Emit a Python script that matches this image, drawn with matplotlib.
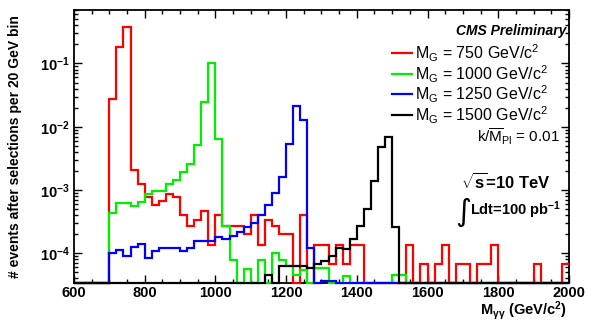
import numpy as np
import matplotlib
matplotlib.use("Agg")
import matplotlib.pyplot as plt

plt.rcParams['font.family'] = ['Liberation Sans', 'DejaVu Sans']
plt.rcParams['mathtext.fontset'] = 'custom'
plt.rcParams['mathtext.rm'] = 'Liberation Sans'
plt.rcParams['mathtext.it'] = 'Liberation Sans:italic'
plt.rcParams['mathtext.bf'] = 'Liberation Sans:bold'

# 20 GeV bins from 600 to 2000 GeV
edges = np.arange(600, 2001, 20)

# events per bin (0 = empty bin)
m750 = [0, 0, 0, 0, 0, 0.027, 0.185, 0.38, 2.05e-3, 1.23e-3,
        7.8e-4, 5.8e-4, 6.8e-4, 8.5e-4, 7.8e-4, 4.0e-4, 2.7e-4, 3.3e-4, 4.7e-4, 1.35e-4,
        4.0e-4, 2.7e-4, 2.7e-4, 2.7e-4, 2.0e-4, 4.0e-4, 1.35e-4, 3.3e-4, 2.7e-4, 2.0e-4,
        2.0e-4, 0, 4.0e-4, 0, 1.35e-4, 1.35e-4, 6.7e-5, 1.35e-4, 6.7e-5, 1.35e-4,
        1.35e-4, 0, 0, 0, 0, 0, 0, 1.35e-4, 0, 6.7e-5,
        0, 6.7e-5, 1.35e-4, 0, 6.7e-5, 6.7e-5, 0, 6.7e-5, 6.7e-5, 1.35e-4,
        0, 0, 0, 0, 0, 6.7e-5, 0, 0, 0, 6.7e-5]
m1000 = [0, 0, 0, 0, 0, 4.3e-4, 6.2e-4, 6.3e-4, 5.6e-4, 6.5e-4,
         8.7e-4, 9.8e-4, 9.8e-4, 1.23e-3, 1.45e-3, 1.95e-3, 2.6e-3, 5.2e-3, 0.0245, 0.100,
         6.3e-3, 2.75e-4, 7.9e-5, 0, 5.6e-5, 0, 7.9e-5, 0, 1.0e-4, 7.9e-5,
         6.3e-5, 4.6e-5, 5.4e-5, 0, 5.8e-5, 5.8e-5, 0, 0, 4.4e-5, 0,
         0, 0, 0, 0, 0, 4.6e-5, 4.6e-5, 0, 0, 0,
         0, 0, 0, 0, 0, 0, 0, 0, 0, 0,
         0, 0, 0, 0, 0, 0, 0, 0, 0, 0]
m1250 = [0, 0, 0, 0, 0, 1.02e-4, 1.12e-4, 9.1e-5, 1.26e-4, 1.38e-4,
         8.3e-5, 1.07e-4, 1.2e-4, 1.2e-4, 1.23e-4, 1.07e-4, 1.2e-4, 1.55e-4, 1.55e-4, 1.55e-4,
         1.78e-4, 1.7e-4, 1.86e-4, 2.2e-4, 2.6e-4, 3.0e-4, 4.0e-4, 5.9e-4, 9.1e-4, 1.62e-3,
         5.4e-3, 0.0214, 0.0126, 1.2e-4, 0, 3.7e-5, 3.7e-5, 0, 0, 0,
         0, 0, 0, 0, 0, 0, 0, 0, 0, 0,
         0, 0, 0, 0, 0, 0, 0, 0, 0, 0,
         0, 0, 0, 0, 0, 0, 0, 0, 0, 0]
m1500 = [0, 0, 0, 0, 0, 0, 0, 0, 0, 0,
         0, 0, 0, 0, 0, 0, 0, 0, 0, 0,
         0, 0, 0, 0, 0, 0, 0, 4.6e-5, 0, 6.3e-5,
         6.3e-5, 6.3e-5, 6.2e-5, 5.9e-5, 6.8e-5, 7.6e-5, 9.1e-5, 1.2e-4, 1.15e-4, 1.66e-4,
         2.7e-4, 5.1e-4, 1.41e-3, 4.7e-3, 6.9e-3, 2.6e-4, 0, 0, 0, 0,
         0, 0, 0, 0, 0, 0, 0, 0, 0, 0,
         0, 0, 0, 0, 0, 0, 0, 0, 0, 0]

labels = [r'M$_{\rm G}$ = 750 GeV/c$^{2}$', r'M$_{\rm G}$ = 1000 GeV/c$^{2}$',
          r'M$_{\rm G}$ = 1250 GeV/c$^{2}$', r'M$_{\rm G}$ = 1500 GeV/c$^{2}$']
colors = ['#ff0000', '#00ee00', '#0000ff', '#000000']

ymin, ymax = 3.35e-5, 0.7

fig = plt.figure(figsize=(5.92, 3.22), dpi=100)
ax = fig.add_axes([0.125, 0.12, 0.836, 0.849])

for vals, col in zip([m750, m1000, m1250, m1500], colors):
    v = np.array(vals, dtype=float)
    v = np.where(v > 0, v, ymin)   # empty bins sit on the frame, like ROOT
    ax.stairs(v, edges, baseline=None, color=col, lw=1.6, clip_on=False, zorder=3)

ax.set_yscale('log')
ax.set_xlim(600, 2000)
ax.set_ylim(ymin, ymax)

ax.set_xticks(np.arange(600, 2001, 200))
ax.set_xticks(np.arange(600, 2001, 50), minor=True)
ax.set_xticklabels([str(v) for v in range(600, 2001, 200)], fontweight='bold', fontsize=10.5)
ax.set_yticks([1e-4, 1e-3, 1e-2, 1e-1])
ax.set_yticklabels([r'$\mathbf{10^{-4}}$', r'$\mathbf{10^{-3}}$',
                    r'$\mathbf{10^{-2}}$', r'$\mathbf{10^{-1}}$'], fontsize=10.5)
ax.tick_params(which='both', direction='in', top=True, right=True, width=1.0)
ax.tick_params(which='major', length=6, pad=3)
ax.tick_params(axis='x', which='major', pad=2)
ax.tick_params(which='minor', length=3)
for s in ax.spines.values():
    s.set_linewidth(1.3)

ax.set_ylabel('# events after selections per 20 GeV bin', fontweight='bold', fontsize=10)
ax.yaxis.set_label_coords(-0.105, 0.5)
ax.set_xlabel(r'M$_{\mathbf{\gamma\gamma}}$ (GeV/c$^{\mathbf{2}}$)', fontweight='bold',
              fontsize=10.5, ha='right', va='center')
ax.xaxis.set_label_coords(0.995, -0.101)

# legend, drawn by hand like the ROOT TLegend
rows_y = [53, 74, 94, 115]
for lab, col, yp in zip(labels, colors, rows_y):
    yf = 1 - yp / 322
    ax.plot([392 / 592, 412 / 592], [yf, yf], color=col, lw=1.6,
            transform=fig.transFigure, clip_on=False)
    fig.text(415 / 592, yf, lab, fontsize=11.5, ha='left', va='center')

fig.text(566 / 592, 1 - 31 / 322, 'CMS Preliminary', fontsize=10, fontweight='bold',
         style='italic', ha='right', va='center')
fig.text(560 / 592, 1 - 137 / 322, r'k/$\overline{\rm M}_{\rm Pl}$ = 0.01', fontsize=11,
         ha='right', va='center')
fig.text(551 / 592, 1 - 182 / 322, r'$\mathbf{\sqrt{s}}$=10 TeV', fontsize=12,
         fontweight='bold', ha='right', va='center')
fig.text(455 / 592, 1 - 212 / 322, '\u222b', fontsize=22, ha='left', va='center',
         family=['DejaVu Sans'])
fig.text(561 / 592, 1 - 210 / 322, r'Ldt=100 pb$^{\mathbf{-1}}$', fontsize=10.5,
         fontweight='bold', ha='right', va='center')

fig.savefig('out.png', dpi=100)
